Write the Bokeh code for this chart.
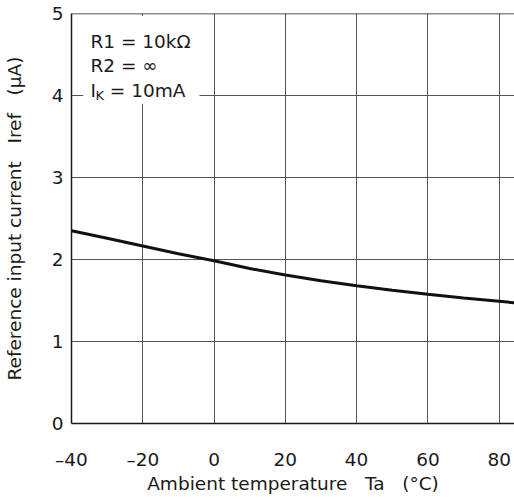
from bokeh.plotting import figure
from bokeh.models import FixedTicker, Span, Label, ColumnDataSource
from bokeh.embed import file_html
from bokeh.resources import INLINE

# Data
temperature = [-40, -30, -20, -10, 0, 10, 20, 30, 40, 50, 60, 70, 80, 85]
iref_uA = [2.35, 2.26, 2.165, 2.07, 1.985, 1.89, 1.81, 1.74, 1.68, 1.625, 1.575, 1.53, 1.49, 1.47]
x_ticks = [-40, -20, 0, 20, 40, 60, 80]
x_tick_labels = ["\u201340", "\u201320", "0", "20", "40", "60", "80"]
y_ticks = [0, 1, 2, 3, 4, 5]
cond_lines = ["R1 = 10k\u03a9", "R2 = \u221e"]

FONT = "DejaVu Sans"
FS = "18.5px"
INK = "#1a1a1a"
SP3 = "\u00a0\u00a0\u00a0"

p = figure(width=514, height=499, output_backend="svg", toolbar_location=None,
           x_range=(-40, 84.3), y_range=(0, 5),
           min_border_left=68, min_border_top=13, min_border_right=0, min_border_bottom=76)
p.outline_line_color = None
p.background_fill_color = "white"

src = ColumnDataSource(dict(x=temperature, y=iref_uA))

# axes
p.xaxis.ticker = FixedTicker(ticks=x_ticks)
p.yaxis.ticker = FixedTicker(ticks=y_ticks)
p.xaxis.major_label_overrides = {t: l for t, l in zip(x_ticks, x_tick_labels)}
for ax in (p.xaxis, p.yaxis):
    ax.major_tick_out = 0
    ax.major_tick_in = 0
    ax.minor_tick_out = 0
    ax.minor_tick_in = 0
    ax.axis_line_color = INK
    ax.axis_line_width = 1.5
    ax.major_label_text_font = FONT
    ax.major_label_text_font_size = FS
    ax.major_label_text_color = INK
    ax.axis_label_text_font = FONT
    ax.axis_label_text_font_size = FS
    ax.axis_label_text_font_style = "normal"
    ax.axis_label_text_color = INK
p.xaxis.major_label_standoff = 25
p.yaxis.major_label_standoff = 8
p.xaxis.axis_label = "Ambient temperature" + SP3 + "Ta" + SP3 + "(\u00b0C)"
p.yaxis.axis_label = "Reference input current" + SP3 + "Iref" + SP3 + "(\u03bcA)"
p.xaxis.axis_label_standoff = 0
p.yaxis.axis_label_standoff = 24

p.xgrid.ticker = FixedTicker(ticks=x_ticks)
p.ygrid.ticker = FixedTicker(ticks=y_ticks)
p.grid.grid_line_color = "#555555"
p.grid.grid_line_width = 1
p.grid.grid_line_alpha = 1

# top border
p.add_layout(Span(location=5, dimension="width", line_color=INK, line_width=1.5))

# condition box (white patch hiding the grid)
p.quad(left=[-36.7], right=[-4.1], bottom=[3.9], top=[4.97],
       fill_color="white", line_color=None)

# curve
p.line("x", "y", source=src, line_color="#111111", line_width=3)

# condition texts
text_x = -34.7
for txt, yy in zip(cond_lines, [4.662, 4.366]):
    p.add_layout(Label(x=text_x, y=yy, text=txt, text_font=FONT, text_font_size=FS,
                       text_color=INK, text_baseline="alphabetic"))
p.add_layout(Label(x=text_x, y=4.061, text="I", text_font=FONT, text_font_size=FS,
                   text_color=INK, text_baseline="alphabetic"))
p.add_layout(Label(x=-33.25, y=4.0, text="K", text_font=FONT, text_font_size="13px",
                   text_color=INK, text_baseline="alphabetic"))
p.add_layout(Label(x=-30.9, y=4.061, text="\u00a0= 10mA", text_font=FONT, text_font_size=FS,
                   text_color=INK, text_baseline="alphabetic"))

open("out.html", "w").write(file_html(p, INLINE))
